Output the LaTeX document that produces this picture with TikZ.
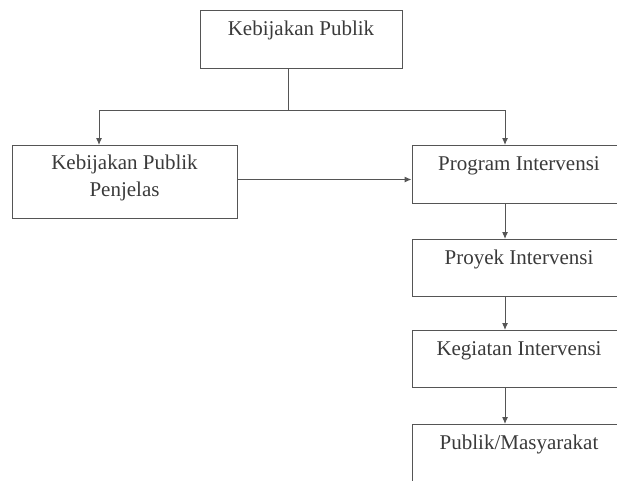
\documentclass[tikz,border=0pt]{standalone}
\usepackage{tikz}
\usepackage{fontspec}
\setmainfont{Liberation Serif}
\usetikzlibrary{arrows.meta}
\definecolor{garis}{HTML}{555555}
\definecolor{teks}{HTML}{3A3A3A}

\begin{document}
\begin{tikzpicture}[x=1pt,y=-1pt,
        kotak/.style={draw=garis, line width=1pt, inner sep=0pt, text=teks,
            font=\fontsize{21}{27}\selectfont},
        kotaksatu/.style={kotak, text height=25pt, text depth=33pt},
        garishubung/.style={draw=garis, line width=1pt},
        panah/.style={garishubung, -{Latex[length=7pt,width=6pt]}}]
        \useasboundingbox (0,0) rectangle (617,480);
        \clip (0,0) rectangle (617,480);

        % kotak-kotak
        \node[kotaksatu, minimum width=202pt, anchor=north] (kp) at (301,10) {Kebijakan Publik};
        \node[kotak, minimum width=225pt, minimum height=73pt, align=center, anchor=north] (kpp) at (124.5,145) {Kebijakan Publik\\Penjelas\rule[-12pt]{0pt}{12pt}};
        \node[kotaksatu, minimum width=214pt, anchor=north] (prog) at (519,145) {Program Intervensi};
        \node[kotaksatu, minimum width=214pt, text depth=32pt, anchor=north] (proy) at (519,239) {Proyek Intervensi};
        \node[kotaksatu, minimum width=214pt, text depth=32pt, anchor=north] (keg) at (519,330) {Kegiatan Intervensi};
        \node[kotaksatu, minimum width=214pt, anchor=north] (pub) at (519,424) {Publik/Masyarakat};

        % percabangan
        \coordinate (kiri) at (99,110);
        \coordinate (kanan) at (505,110);
        \draw[garishubung] ([xshift=-13pt]kp.south) -- ([xshift=-13pt]kp.south |- kiri);
        \draw[garishubung] (kiri) -- (kanan);
        \draw[panah] (kiri) -- (kiri |- kpp.north);
        \draw[panah] (kanan) -- (kanan |- prog.north);

        % panah-panah
        \draw[panah] ([yshift=2.5pt]kpp.east) -- ([yshift=2.5pt]kpp.east -| prog.west);
        \draw[panah] ([xshift=-14pt]prog.south) -- ([xshift=-14pt]proy.north);
        \draw[panah] ([xshift=-14pt]proy.south) -- ([xshift=-14pt]keg.north);
        \draw[panah] ([xshift=-14pt]keg.south) -- ([xshift=-14pt]pub.north);
    \end{tikzpicture}
\end{document}
